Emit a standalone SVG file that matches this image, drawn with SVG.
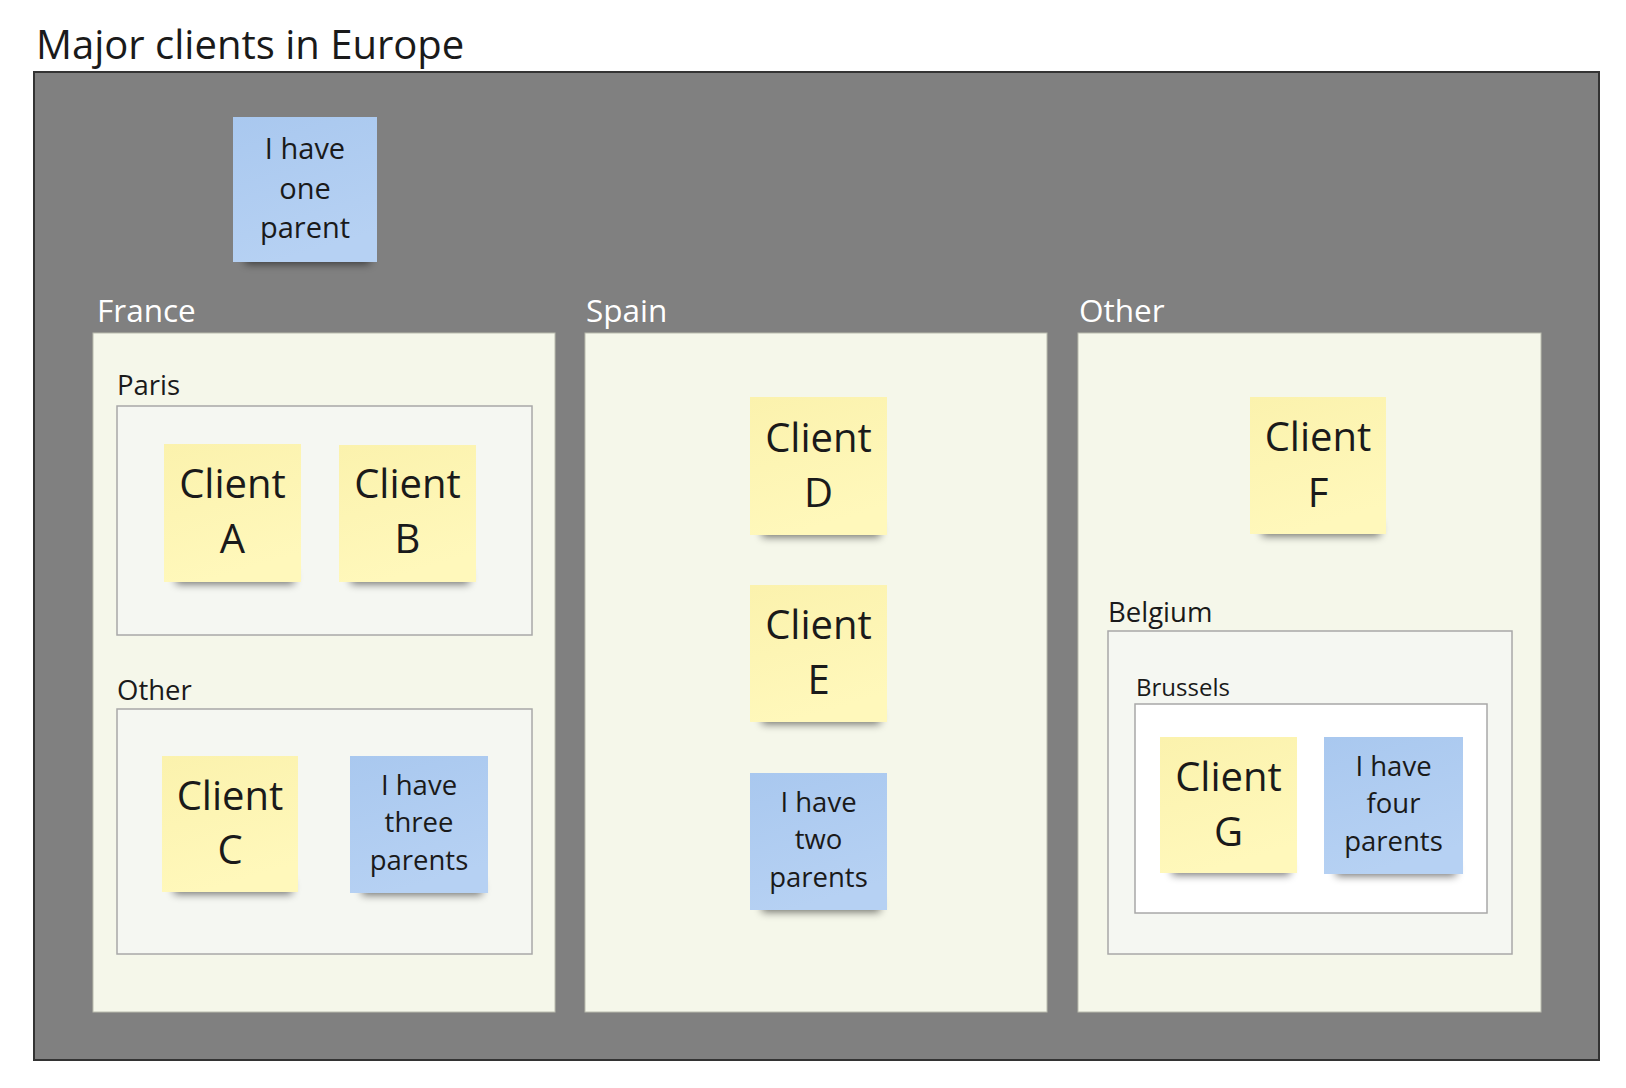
<svg xmlns="http://www.w3.org/2000/svg" width="1626" height="1088" viewBox="0 0 1626 1088">
<defs>
<style>
.title{font-family:"Open Sans","Liberation Sans",sans-serif;font-size:40px;fill:#1a1a1a}
.area{font-family:"Open Sans","Liberation Sans",sans-serif;font-size:31.5px;fill:#ffffff}
.sub{font-family:"Open Sans","Liberation Sans",sans-serif;font-size:27.5px;fill:#1a1a1a}
.sub2{font-family:"Open Sans","Liberation Sans",sans-serif;font-size:24px;fill:#1a1a1a}
.client{font-family:"Open Sans","Liberation Sans",sans-serif;font-size:40px;fill:#1a1a1a;text-anchor:middle}
.note{font-family:"Open Sans","Liberation Sans",sans-serif;font-size:27.5px;fill:#1a1a1a;text-anchor:middle}
.panel{fill:#f5f7ea;stroke:#b9bbae;stroke-width:1}
.box{fill:#f5f7f2;stroke:#a8a8a8;stroke-width:1.5}
.boxw{fill:#ffffff;stroke:#a8a8a8;stroke-width:1.5}
.yel{fill:url(#gy)}
.blu{fill:url(#gb)}
.sh{fill:#000;opacity:0.55;filter:url(#blur)}
</style>
<linearGradient id="gy" x1="0" y1="0" x2="0.3" y2="1">
<stop offset="0" stop-color="#fbf2ad"/>
<stop offset="1" stop-color="#fff8bb"/>
</linearGradient>
<linearGradient id="gb" x1="0" y1="0" x2="0.3" y2="1">
<stop offset="0" stop-color="#a9c8ef"/>
<stop offset="1" stop-color="#b6d1f3"/>
</linearGradient>
<filter id="blur" x="-20%" y="-100%" width="140%" height="300%">
<feGaussianBlur stdDeviation="4"/>
</filter>
</defs>

<text class="title" x="36" y="59">Major clients in Europe</text>
<rect x="34" y="72" width="1565" height="988" fill="#808080" stroke="#333333" stroke-width="2"/>

<g id="note-one-parent">
<rect class="sh" x="245" y="250" width="125" height="14"/>
<rect class="blu" x="233" y="117" width="144" height="145"/>
<text class="note" style="font-size:29px" x="305" y="159">I have</text>
<text class="note" style="font-size:29px" x="305" y="199">one</text>
<text class="note" style="font-size:29px" x="305" y="238">parent</text>
</g>

<g id="france">
<text class="area" x="97" y="322">France</text>
<rect class="panel" x="93" y="333" width="462" height="679"/>
</g>
<g id="spain">
<text class="area" x="586" y="322">Spain</text>
<rect class="panel" x="585" y="333" width="462" height="679"/>
</g>
<g id="other-region">
<text class="area" x="1079" y="322">Other</text>
<rect class="panel" x="1078" y="333" width="463" height="679"/>
</g>

<g id="paris">
<text class="sub" x="117" y="395">Paris</text>
<rect class="box" x="117" y="406" width="415" height="229"/>
</g>
<g id="france-other">
<text class="sub" x="117" y="700">Other</text>
<rect class="box" x="117" y="709" width="415" height="245"/>
</g>
<g id="belgium">
<text class="sub" x="1108" y="622">Belgium</text>
<rect class="box" x="1108" y="631" width="404" height="323"/>
</g>
<g id="brussels">
<text class="sub2" x="1136" y="696">Brussels</text>
<rect class="boxw" x="1135" y="704" width="352" height="209"/>
</g>

<g id="client-a">
<rect class="sh" x="176" y="570" width="118" height="14"/>
<rect class="yel" x="164" y="444" width="137" height="138"/>
<text class="client" x="232.5" y="498">Client</text>
<text class="client" x="232.5" y="553">A</text>
</g>
<g id="client-b">
<rect class="sh" x="351" y="570" width="118" height="14"/>
<rect class="yel" x="339" y="445" width="137" height="137"/>
<text class="client" x="407.5" y="498">Client</text>
<text class="client" x="407.5" y="553">B</text>
</g>
<g id="client-c">
<rect class="sh" x="174" y="880" width="118" height="14"/>
<rect class="yel" x="162" y="756" width="136" height="136"/>
<text class="client" x="230" y="810">Client</text>
<text class="client" x="230" y="864">C</text>
</g>
<g id="note-three-parents">
<rect class="sh" x="362" y="881" width="120" height="14"/>
<rect class="blu" x="350" y="756" width="138" height="137"/>
<text class="note" x="419" y="795">I have</text>
<text class="note" x="419" y="832">three</text>
<text class="note" x="419" y="870">parents</text>
</g>

<g id="client-d">
<rect class="sh" x="762" y="523" width="118" height="14"/>
<rect class="yel" x="750" y="397" width="137" height="138"/>
<text class="client" x="818.5" y="452">Client</text>
<text class="client" x="818.5" y="507">D</text>
</g>
<g id="client-e">
<rect class="sh" x="762" y="710" width="118" height="14"/>
<rect class="yel" x="750" y="585" width="137" height="137"/>
<text class="client" x="818.5" y="639">Client</text>
<text class="client" x="818.5" y="694">E</text>
</g>
<g id="note-two-parents">
<rect class="sh" x="762" y="898" width="118" height="14"/>
<rect class="blu" x="750" y="773" width="137" height="137"/>
<text class="note" x="818.5" y="812">I have</text>
<text class="note" x="818.5" y="849">two</text>
<text class="note" x="818.5" y="887">parents</text>
</g>

<g id="client-f">
<rect class="sh" x="1262" y="522" width="118" height="14"/>
<rect class="yel" x="1250" y="397" width="136" height="137"/>
<text class="client" x="1318" y="451">Client</text>
<text class="client" x="1318" y="507">F</text>
</g>
<g id="client-g">
<rect class="sh" x="1172" y="861" width="118" height="14"/>
<rect class="yel" x="1160" y="737" width="137" height="136"/>
<text class="client" x="1228.5" y="791">Client</text>
<text class="client" x="1228.5" y="846">G</text>
</g>
<g id="note-four-parents">
<rect class="sh" x="1336" y="862" width="120" height="14"/>
<rect class="blu" x="1324" y="737" width="139" height="137"/>
<text class="note" x="1393.5" y="776">I have</text>
<text class="note" x="1393.5" y="813">four</text>
<text class="note" x="1393.5" y="851">parents</text>
</g>

<g id="connectors"></g>
</svg>
